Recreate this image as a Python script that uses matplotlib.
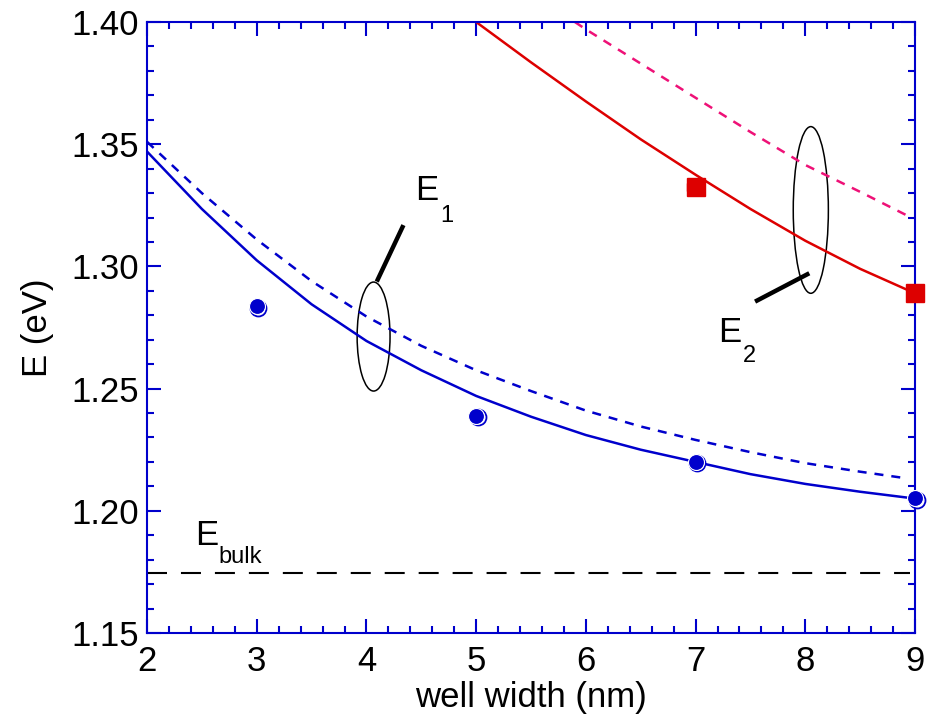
import numpy as np
import matplotlib
matplotlib.use('Agg')
import matplotlib.pyplot as plt
from matplotlib.patches import Ellipse
from matplotlib.transforms import ScaledTranslation
from matplotlib.ticker import MultipleLocator, FormatStrFormatter

plt.rcParams['font.family'] = ['Liberation Sans', 'DejaVu Sans']

# E1 theory (solid) and (dashed)
w_e1 = [2.0, 2.5, 3.0, 3.5, 4.0, 4.5, 5.0, 5.5, 6.0, 6.5, 7.0, 7.5, 8.0, 8.5, 9.0]
e1_solid = [1.347, 1.3235, 1.3025, 1.2845, 1.2695, 1.2575, 1.247, 1.2385, 1.231, 1.225, 1.220, 1.215, 1.211, 1.2078, 1.205]
w_e1d = [2.0, 2.5, 3.0, 3.5, 4.0, 4.5, 5.0, 5.5, 6.0, 6.5, 7.0, 7.5, 8.0, 8.5, 8.92]
e1_dash = [1.351, 1.330, 1.311, 1.294, 1.2795, 1.2675, 1.2575, 1.249, 1.241, 1.2345, 1.229, 1.224, 1.2195, 1.216, 1.2133]

# E2 theory
w_e2 = [5.0, 5.5, 6.0, 6.5, 7.0, 7.5, 8.0, 8.5, 9.0]
e2_solid = [1.400, 1.3835, 1.3675, 1.352, 1.3375, 1.3235, 1.3105, 1.299, 1.289]
w_e2d = [5.9, 6.0, 6.5, 7.0, 7.5, 8.0, 8.5, 8.92]
e2_dash = [1.400, 1.397, 1.383, 1.369, 1.355, 1.3415, 1.3305, 1.321]

# measured
w_e1_exp = [3, 5, 7, 9]
e1_exp = [1.2838, 1.2388, 1.2201, 1.2052]
w_e2_exp = [7, 9]
e2_exp = [1.3326, 1.289]
e2_xerr = [0.08, 0.0]

e_bulk = 1.1745

blue = '#0000cc'
red = '#dd0000'
pink = '#ee1177'

fig = plt.figure(figsize=(9.27, 7.27), dpi=100)
ax = fig.add_axes([0.1586, 0.1293, 0.8285, 0.8404])

ax.plot(w_e1, e1_solid, color=blue, lw=1.8)
ax.plot(w_e1d, e1_dash, color=blue, lw=1.8, dashes=(3.6, 3.2))
ax.plot(w_e2, e2_solid, color=red, lw=1.8)
ax.plot(w_e2d, e2_dash, color=pink, lw=1.8, dashes=(3.6, 3.2))
ax.plot([2, 8.95], [e_bulk, e_bulk], color='black', lw=1.5, dashes=(9.6, 6.7))

# blue points: open circle shadow + filled circle
shadow = ax.transData + ScaledTranslation(1.5 / 100, -1.5 / 100, fig.dpi_scale_trans)
ax.plot(w_e1_exp, e1_exp, 'o', ms=11.5, mfc='white', mec=blue, mew=1.3,
        transform=shadow, clip_on=False, zorder=5)
ax.plot(w_e1_exp, e1_exp, 'o', ms=11.5, mfc=blue, mec='white', mew=0.8,
        clip_on=False, zorder=6)

ax.errorbar(w_e2_exp, e2_exp, xerr=e2_xerr, fmt='s', ms=13, color=red,
            mec=red, elinewidth=1.0, capsize=3, capthick=1.0, clip_on=False, zorder=5)

# ellipses and pointer lines
ax.add_patch(Ellipse((4.065, 1.2713), 0.30, 0.0446, fill=False, ec='black', lw=1.1))
ax.plot([4.094, 4.337], [1.2938, 1.3169], color='black', lw=3.2, solid_capstyle='butt')
ax.add_patch(Ellipse((8.05, 1.3231), 0.32, 0.0682, fill=False, ec='black', lw=1.1))
ax.plot([8.036, 7.542], [1.2972, 1.2856], color='black', lw=3.2, solid_capstyle='butt')

ax.text(4.443, 1.3272, 'E', fontsize=25, ha='left', va='baseline')
ax.text(4.671, 1.3182, '1', fontsize=17, ha='left', va='baseline')
ax.text(7.205, 1.2691, 'E', fontsize=25, ha='left', va='baseline')
ax.text(7.433, 1.2609, '2', fontsize=17, ha='left', va='baseline')
ax.text(2.4376, 1.186, 'E', fontsize=25, ha='left', va='baseline')
ax.text(2.647, 1.1786, 'bulk', fontsize=17, ha='left', va='baseline')

ax.set_xlim(2, 9)
ax.set_ylim(1.15, 1.40)
ax.xaxis.set_major_locator(MultipleLocator(1))
ax.xaxis.set_minor_locator(MultipleLocator(0.2))
ax.yaxis.set_major_locator(MultipleLocator(0.05))
ax.yaxis.set_minor_locator(MultipleLocator(0.01))
ax.yaxis.set_major_formatter(FormatStrFormatter('%.2f'))

for s in ax.spines.values():
    s.set_color(blue)
    s.set_linewidth(1.5)
ax.tick_params(which='both', direction='in', top=True, right=True, color=blue,
               width=1.5, labelsize=25)
ax.tick_params(which='major', length=10)
ax.tick_params(which='minor', length=5)
ax.tick_params(axis='x', pad=9)
ax.tick_params(axis='y', pad=6)

ax.set_xlabel('well width (nm)', fontsize=25, labelpad=2)
ax.set_ylabel('E (eV)', fontsize=25, labelpad=12)

fig.savefig('out.png', dpi=100)
